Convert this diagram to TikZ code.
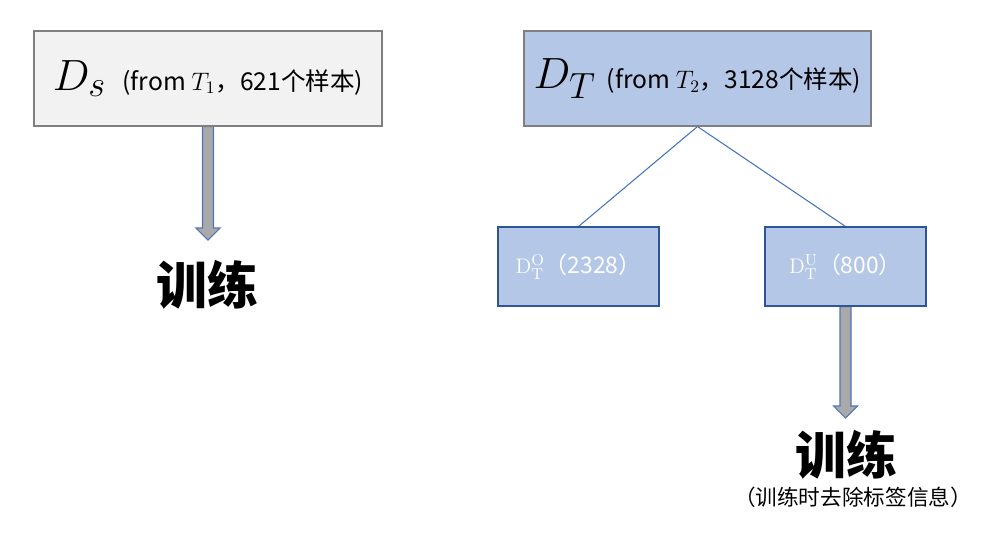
\documentclass[tikz,border=0pt]{standalone}
\usepackage{amsmath}
\usepackage[no-math]{fontspec}
\setmainfont{Noto Sans CJK SC}
\usepackage{tikz}
\usetikzlibrary{positioning,shapes.geometric}
\pgfdeclarelayer{edgelayer}
\pgfdeclarelayer{nodelayer}
\pgfsetlayers{edgelayer,nodelayer,main}
\definecolor{lgray}{HTML}{F2F2F2}
\definecolor{bordergray}{HTML}{7F7F7F}
\definecolor{lsteel}{HTML}{B4C7E7}
\definecolor{dblue}{HTML}{2F5597}
\definecolor{mblue}{HTML}{4472C4}
\definecolor{arrowgray}{HTML}{A9A9A9}
\tikzstyle{source}=[rectangle,fill=lgray,draw=bordergray,line width=0.6pt,minimum width=6.96cm,minimum height=1.9cm,inner sep=0pt]
\tikzstyle{target}=[rectangle,fill=lsteel,draw=bordergray,line width=0.6pt,minimum width=6.94cm,minimum height=1.9cm,inner sep=0pt]
\tikzstyle{part}=[rectangle,fill=lsteel,draw=dblue,line width=0.6pt,minimum width=3.22cm,minimum height=1.58cm,inner sep=0pt,text=white,font=\fontsize{13}{15}\selectfont]
\tikzstyle{train}=[inner sep=0pt,font=\fontsize{29}{32}\selectfont\bfseries]
\tikzstyle{note}=[inner sep=0pt,font=\fontsize{12.3}{14}\selectfont]
\tikzstyle{split}=[draw=mblue,line width=0.6pt]
\tikzstyle{bigarrow}=[draw=mblue!80!gray,fill=arrowgray,line width=0.6pt,
  to path={([xshift=-0.11cm]\tikztostart) -- ([xshift=-0.11cm,yshift=0.24cm]\tikztotarget)
  -- ([xshift=-0.24cm,yshift=0.24cm]\tikztotarget) -- (\tikztotarget)
  -- ([xshift=0.24cm,yshift=0.24cm]\tikztotarget) -- ([xshift=0.11cm,yshift=0.24cm]\tikztotarget)
  -- ([xshift=0.11cm]\tikztostart) -- cycle}]
\newcommand{\headtext}[1]{{\fontsize{14}{16}\selectfont #1}}
\newcommand{\bigset}[1]{{\fontsize{28}{30}\selectfont $#1$}}

\begin{document}
\begin{tikzpicture}
	\useasboundingbox (0,0) rectangle (20,-10.9);
	\begin{pgfonlayer}{nodelayer}
		\node [style=source] (Ds) at (4.16,-1.57) {\bigset{D_s}\hspace{0.33cm}\headtext{(from $T_1$，621个样本)}};
		\node [style=target] (DT) at (13.95,-1.57) {\bigset{D_T}\hspace{0.22cm}\headtext{(from $T_2$，3128个样本)}};
		\node [style=part] (DTO) at (11.57,-5.33) {$\mathrm{D}_{\mathrm{T}}^{\mathrm{O}}$（2328）\hspace{0.3cm}};
		\node [style=part] (DTU) at (16.91,-5.33) {$\mathrm{D}_{\mathrm{T}}^{\mathrm{U}}$（800）\hspace{0.3cm}};
		\node [style=train] (TrS) at (4.14,-5.7) {训练};
		\node [style=train] (TrT) at (16.92,-9.1) {训练};
		\node [style=note] (Note) at (17.06,-9.94) {（训练时去除标签信息）};
		\coordinate (TipS) at (4.16,-4.8);
		\coordinate (TipT) at (16.91,-8.36);
	\end{pgfonlayer}
	\begin{pgfonlayer}{edgelayer}
		\draw [style=bigarrow] (Ds.south) to (TipS);
		\draw [style=split] (DT.south) to (DTO.north);
		\draw [style=split] (DT.south) to (DTU.north);
		\draw [style=bigarrow] (DTU.south) to (TipT);
	\end{pgfonlayer}
\end{tikzpicture}
\end{document}
